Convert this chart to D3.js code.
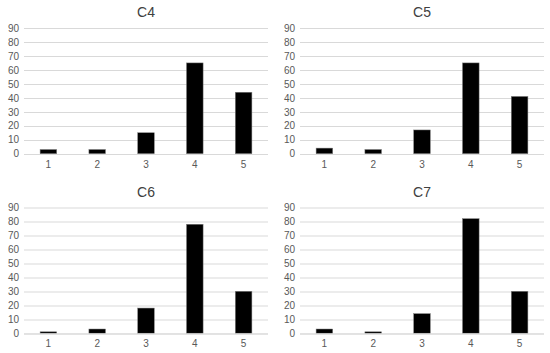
<!DOCTYPE html>
<html>
<head>
<meta charset="utf-8">
<script src="https://cdn.jsdelivr.net/npm/d3@7"></script>
<style>
  body { margin: 0; background: #fff; }
  svg { display: block; font-family: "Liberation Sans", Arial, sans-serif; }
</style>
</head>
<body>
<svg id="chart" width="550" height="353"></svg>
<script>
// data
const categories = ["1", "2", "3", "4", "5"];
const titles = ["C4", "C5", "C6", "C7"];
const c4 = [3, 3, 15, 65, 44];
const c5 = [4, 3, 17, 65, 41];
const c6 = [1, 3, 18, 78, 30];
const c7 = [3, 1, 14, 82, 30];
const yTicks = [0, 10, 20, 30, 40, 50, 60, 70, 80, 90];

const series = [c4, c5, c6, c7];
const svg = d3.select("#chart");

// panel origins (left/top) in a 2x2 grid
const panels = [
    { x: 0, y: 0 },
    { x: 276, y: 0 },
    { x: 0, y: 179.5 },
    { x: 276, y: 179.5 }
];

const plotLeft = 24, plotRight = 268;
const plotTop = 28, plotBottom = 153.7;

const x = d3.scaleBand()
    .domain(categories)
    .range([plotLeft, plotRight])
    .paddingInner(0.66)
    .paddingOuter(0.33);

const y = d3.scaleLinear()
    .domain([0, 90])
    .range([plotBottom, plotTop]);

series.forEach((values, i) => {
    const g = svg.append("g")
        .attr("transform", `translate(${panels[i].x},${panels[i].y})`);

    g.append("text")
        .attr("x", (plotLeft + plotRight) / 2)
        .attr("y", 17)
        .attr("text-anchor", "middle")
        .attr("font-size", 14)
        .attr("fill", "#404040")
        .text(titles[i]);

    // gridlines
    g.selectAll("line.grid")
        .data(yTicks)
        .join("line")
        .attr("class", "grid")
        .attr("x1", plotLeft)
        .attr("x2", plotRight)
        .attr("y1", d => Math.round(y(d)) + 0.5)
        .attr("y2", d => Math.round(y(d)) + 0.5)
        .attr("stroke", "#d9d9d9")
        .attr("stroke-width", 1);

    const yAxis = g.append("g")
        .attr("transform", `translate(${plotLeft - 5},0)`)
        .call(d3.axisLeft(y).tickValues(yTicks).tickSize(0).tickPadding(0));
    yAxis.select(".domain").remove();
    yAxis.selectAll("text")
        .attr("font-size", 10)
        .attr("font-family", "Liberation Sans, Arial, sans-serif")
        .attr("fill", "#595959");

    g.selectAll("rect.bar")
        .data(values)
        .join("rect")
        .attr("class", "bar")
        .attr("x", (d, j) => x(categories[j]))
        .attr("y", d => y(d))
        .attr("width", x.bandwidth())
        .attr("height", d => y(0) - y(d))
        .attr("fill", "#000")
        .attr("stroke", "#7f7f7f")
        .attr("stroke-width", 0.5);

    const xAxis = g.append("g")
        .attr("transform", `translate(0,${Math.round(y(0)) + 0.5})`)
        .call(d3.axisBottom(x).tickSize(0).tickPadding(6));
    xAxis.select(".domain")
        .attr("stroke", "#d9d9d9")
        .attr("d", `M${plotLeft},0H${plotRight}`);
    xAxis.selectAll("text")
        .attr("font-size", 10)
        .attr("font-family", "Liberation Sans, Arial, sans-serif")
        .attr("fill", "#595959");
});
</script>
</body>
</html>
